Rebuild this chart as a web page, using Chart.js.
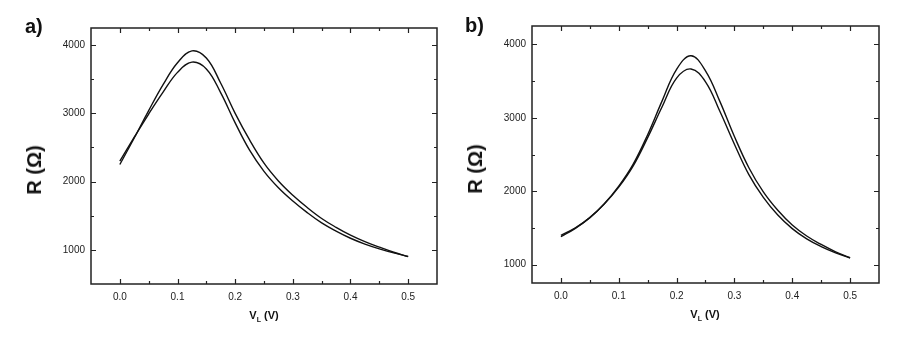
<!DOCTYPE html>
<html>
<head>
<meta charset="utf-8">
<script src="https://cdn.jsdelivr.net/npm/chart.js@4.4.0/dist/chart.umd.min.js"></script>
<style>
  body { margin: 0; background: #fff; }
  #wrap { position: relative; width: 916px; height: 343px; overflow: hidden; font-family: "Liberation Sans", Arial, sans-serif; }
  .panel { position: absolute; top: 0; width: 458px; height: 343px; }
  .letter { position: absolute; font-weight: bold; font-size: 20px; line-height: 1; color: #111; }
  .ytitle { position: absolute; font-weight: bold; font-size: 20px; line-height: 1; color: #111; white-space: nowrap;
            transform: translate(-50%, -50%) rotate(-90deg); }
  .xtitle { position: absolute; font-weight: bold; font-size: 11px; line-height: 1; color: #111; white-space: nowrap;
            transform: translate(-50%, -50%); }
  .xtitle sub { font-size: 7px; vertical-align: -3px; }
</style>
</head>
<body>
<div id="wrap">
  <div class="panel" style="left:0"><canvas id="chartA"></canvas></div>
  <div class="panel" style="left:458px"><canvas id="chartB"></canvas></div>
  <div class="letter" style="left:25px; top:16px">a)</div>
  <div class="letter" style="left:465px; top:15px">b)</div>
  <div class="ytitle" style="left:34px; top:170px">R (Ω)</div>
  <div class="ytitle" style="left:475px; top:169px">R (Ω)</div>
  <div class="xtitle" style="left:264px; top:316px">V<sub>L</sub> (V)</div>
  <div class="xtitle" style="left:705px; top:315px">V<sub>L</sub> (V)</div>
</div>
<script>
// load voltage (V), sampled every 0.025 V
const vL = [0, 0.025, 0.05, 0.075, 0.1, 0.125, 0.15, 0.175, 0.2, 0.225, 0.25,
            0.275, 0.3, 0.325, 0.35, 0.375, 0.4, 0.425, 0.45, 0.475, 0.5];

// panel a) resistance (ohm)
const aUpper = [2250, 2640, 3040, 3420, 3740, 3915, 3810, 3440, 3000, 2610, 2270,
                2010, 1800, 1620, 1460, 1330, 1215, 1120, 1040, 965, 900];
const aLower = [2300, 2650, 2990, 3310, 3600, 3750, 3650, 3300, 2860, 2460, 2150,
                1910, 1715, 1545, 1395, 1275, 1170, 1085, 1015, 955, 905];

// panel b) resistance (ohm)
const bUpper = [1380, 1495, 1640, 1830, 2070, 2370, 2770, 3230, 3660, 3845, 3640,
                3220, 2745, 2320, 1990, 1740, 1540, 1390, 1275, 1175, 1095];
const bLower = [1400, 1500, 1640, 1825, 2055, 2345, 2730, 3150, 3540, 3665, 3490,
                3085, 2640, 2225, 1915, 1675, 1490, 1350, 1245, 1160, 1090];

// axis ticks
const xTicks = [0, 0.1, 0.2, 0.3, 0.4, 0.5];
const xMinor = [0.05, 0.15, 0.25, 0.35, 0.45];
const aYTicks = [1000, 2000, 3000, 4000];
const aYMinor = [1500, 2500, 3500];
const bYTicks = [1000, 2000, 3000, 4000];
const bYMinor = [1500, 2500, 3500];

const tickFont = { family: '"Liberation Sans", Arial, sans-serif', size: 10 };

// box around plot + inward ticks on all four sides
const frameTicks = {
  id: 'frameTicks',
  afterDraw(chart, args, opts) {
    const { ctx, chartArea: { left, right, top, bottom }, scales: { x, y } } = chart;
    ctx.save();
    ctx.strokeStyle = '#222';
    ctx.lineWidth = 1.5;
    ctx.strokeRect(left, top, right - left, bottom - top);
    ctx.lineWidth = 1.2;
    const drawX = (vals, len) => {
      vals.forEach(v => {
        const px = Math.round(x.getPixelForValue(v)) + 0.5;
        ctx.beginPath();
        ctx.moveTo(px, bottom); ctx.lineTo(px, bottom - len);
        ctx.moveTo(px, top); ctx.lineTo(px, top + len);
        ctx.stroke();
      });
    };
    const drawY = (vals, len) => {
      vals.forEach(v => {
        const py = Math.round(y.getPixelForValue(v)) + 0.5;
        ctx.beginPath();
        ctx.moveTo(left, py); ctx.lineTo(left + len, py);
        ctx.moveTo(right, py); ctx.lineTo(right - len, py);
        ctx.stroke();
      });
    };
    drawX(xTicks, 5);
    drawX(xMinor, 3);
    drawY(opts.major, 5);
    drawY(opts.minor, 3);
    ctx.restore();
  }
};

function makeChart(canvasId, upper, lower, yMin, yMax, yTicks, yMinor, box) {
  const toPts = arr => arr.map((r, i) => ({ x: vL[i], y: r }));
  const lineStyle = {
    borderColor: '#111',
    borderWidth: 1.4,
    pointRadius: 0,
    fill: false,
    tension: 0.4
  };
  return new Chart(document.getElementById(canvasId), {
    type: 'line',
    data: {
      datasets: [
        Object.assign({ label: 'upper', data: toPts(upper) }, lineStyle),
        Object.assign({ label: 'lower', data: toPts(lower) }, lineStyle)
      ]
    },
    options: {
      responsive: false,
      animation: false,
      events: [],
      layout: { padding: { left: 0, top: box.top, right: box.right, bottom: 0 } },
      plugins: {
        legend: { display: false },
        tooltip: { enabled: false },
        frameTicks: { major: yTicks, minor: yMinor }
      },
      scales: {
        x: {
          type: 'linear',
          min: -0.05,
          max: 0.55,
          grid: { display: false, drawTicks: false },
          border: { display: false },
          afterBuildTicks: s => { s.ticks = xTicks.map(v => ({ value: v })); },
          afterFit: s => { s.height = box.xh; },
          ticks: {
            font: tickFont,
            color: '#222',
            padding: 7,
            maxRotation: 0,
            callback: v => v.toFixed(1)
          }
        },
        y: {
          min: yMin,
          max: yMax,
          grid: { display: false, drawTicks: false },
          border: { display: false },
          afterBuildTicks: s => { s.ticks = yTicks.map(v => ({ value: v })); },
          afterFit: s => { s.width = box.yw; },
          ticks: {
            font: tickFont,
            color: '#222',
            padding: 6,
            callback: v => String(v)
          }
        }
      }
    },
    plugins: [frameTicks]
  });
}

document.getElementById('chartA').width = 458;
document.getElementById('chartA').height = 343;
document.getElementById('chartB').width = 458;
document.getElementById('chartB').height = 343;

makeChart('chartA', aUpper, aLower, 500, 4250, aYTicks, aYMinor,
  { yw: 91, xh: 59, top: 28, right: 21 });
makeChart('chartB', bUpper, bLower, 750, 4250, bYTicks, bYMinor,
  { yw: 74, xh: 60, top: 26, right: 37 });
</script>
</body>
</html>
